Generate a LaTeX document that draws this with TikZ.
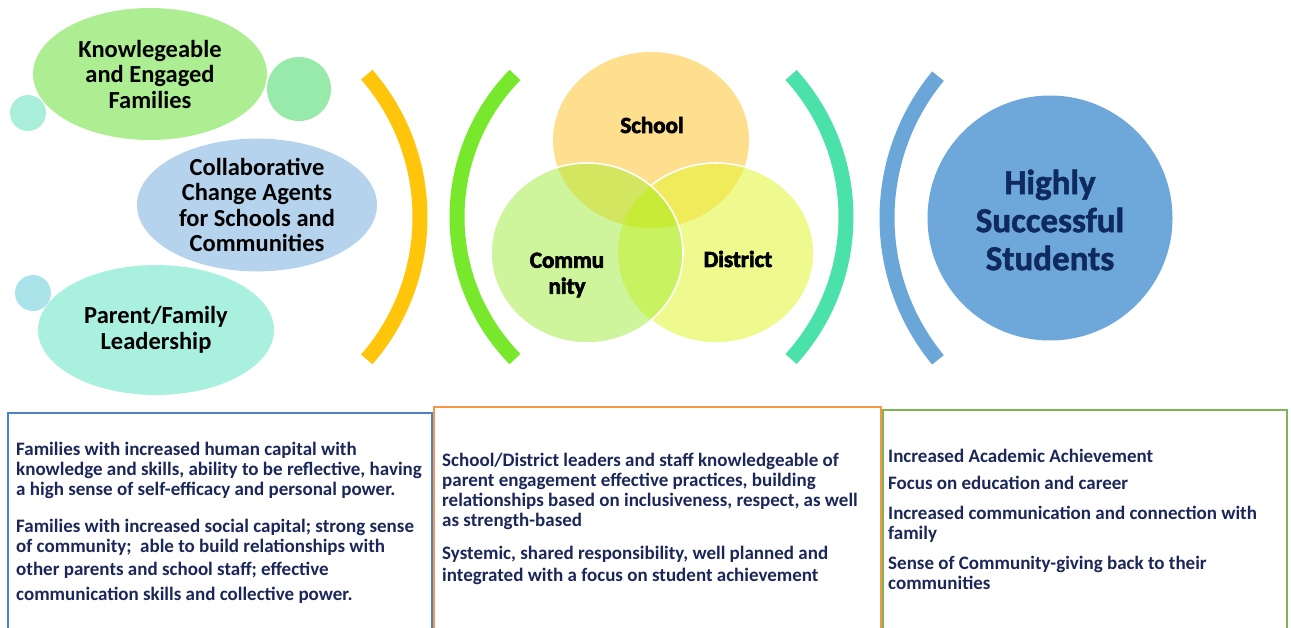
\documentclass[tikz,border=0pt]{standalone}
\usepackage{fontspec}
\setmainfont{Carlito}
\newfontfamily\heavyfont{Carlito}[UprightFont={* Bold}, UprightFeatures={FakeBold=3}]
\newfontfamily\goalfont{Carlito}[UprightFont={* Bold}, UprightFeatures={FakeBold=1.5}]
\usetikzlibrary{shapes.geometric}

\definecolor{dotA}{HTML}{A9EED8}
\definecolor{dotB}{HTML}{98EAAA}
\definecolor{dotC}{HTML}{ABE3EB}
\definecolor{bubA}{HTML}{ADEE92}
\definecolor{bubB}{HTML}{B5D3EC}
\definecolor{bubC}{HTML}{A9F0DF}
\definecolor{bandY}{HTML}{FFC50A}
\definecolor{bandG}{HTML}{77E82B}
\definecolor{bandT}{HTML}{4AE1AA}
\definecolor{bandB}{HTML}{6BA6D9}
\definecolor{goalfill}{HTML}{6EA8DA}
\definecolor{goalink}{HTML}{0E2A5E}
\definecolor{vS}{HTML}{FDDF8E}
\definecolor{vC}{HTML}{CEF59B}
\definecolor{vD}{HTML}{EEFA8E}
\definecolor{vSC}{HTML}{D2E65F}
\definecolor{vSD}{HTML}{F0EB5A}
\definecolor{vCD}{HTML}{C8F25F}
\definecolor{vSCD}{HTML}{C8EB37}
\definecolor{frameB}{HTML}{4F81C7}
\definecolor{frameO}{HTML}{F79646}
\definecolor{frameG}{HTML}{7DB653}
\definecolor{navy}{HTML}{1B2758}

\tikzset{
  ball/.style={circle, inner sep=0pt, draw=none},
  bubble/.style={ellipse, inner sep=0pt, draw=none, align=center, text=black,
    font=\bfseries\fontsize{24.5}{25.5}\selectfont},
  band/.style={line width=15pt},
  venntxt/.style={align=center, text=black, inner sep=0pt,
    font=\heavyfont\fontsize{23}{26}\selectfont},
  goaltxt/.style={align=center, inner sep=0pt, text=goalink,
    font=\goalfont\fontsize{35}{38}\selectfont},
  boxtext/.style={anchor=north west, inner sep=0pt, align=left, text=navy,
    font=\bfseries\fontsize{19}{20}\selectfont},
  frame/.style={line width=2pt, fill=white},
}

\begin{document}
\begin{tikzpicture}[x=1pt, y=-1pt]
\useasboundingbox (0,0) rectangle (1291,627);
\clip (0,0) rectangle (1291,627);

% ---- family bubbles ----
\node[ball, fill=dotA, minimum size=36pt] (dA) at (28,113) {};
\node[ball, fill=dotB, minimum size=64pt] (dB) at (299,89) {};
\node[ball, fill=dotC, minimum size=36pt] (dC) at (33,293) {};
\node[bubble, fill=bubA, minimum width=234pt, minimum height=132pt] (eA) at (150,74)
  {Knowlegeable\\and Engaged\\Families};
\node[bubble, fill=bubB, minimum width=240pt, minimum height=131pt] (eB) at (257,205)
  {Collaborative\\Change Agents\\for Schools and\\Communities};
\node[bubble, fill=bubC, minimum width=236pt, minimum height=130pt] (eC) at (156,330)
  {Parent/Family\\Leadership};

% ---- bracket bands ----
\coordinate (cY) at (203,217);
\coordinate (cG) at (660,217);
\coordinate (cT) at (635,217);
\coordinate (cB) at (1110,218);
\draw[band, bandY] (cY) ++(-41:217) arc[start angle=-41, end angle=41, radius=217];
\draw[band, bandG] (cG) ++(224.4:203) arc[start angle=224.4, end angle=135.6, radius=203];
\draw[band, bandT] (cT) ++(-42.3:211) arc[start angle=-42.3, end angle=42.3, radius=211];
\draw[band, bandB] (cB) ++(219.5:223) arc[start angle=219.5, end angle=140.5, radius=223];

% ---- Venn diagram ----
\coordinate (vs) at (651,140);
\coordinate (vc) at (587,253);
\coordinate (vd) at (716,253);
\def\schoolpath{(vs) ellipse[x radius=98, y radius=88]}
\def\commpath{(vc) ellipse[x radius=96, y radius=90]}
\def\distpath{(vd) ellipse[x radius=98, y radius=90]}
\fill[vS] \schoolpath;
\fill[vD] \distpath;
\begin{scope}
  \clip \distpath;
  \fill[vSD] \schoolpath;
\end{scope}
\draw[white, line width=1.6pt] \distpath;
\fill[vC] \commpath;
\begin{scope}
  \clip \commpath;
  \fill[vSC] \schoolpath;
  \fill[vCD] \distpath;
  \clip \schoolpath;
  \fill[vSCD] \distpath;
\end{scope}
\draw[white, line width=1.6pt] \commpath;

\node[venntxt] (lS) at (652,125) {School};
\node[venntxt] (lC) at (567,275) {Commu\\nity};
\node[venntxt] (lD) at (738,259) {District};

% ---- outcome circle ----
\node[ball, fill=goalfill, minimum size=245pt] (goal) at (1050,218) {};
\node[goaltxt] (goalT) at (1050,220) {Highly\\Successful\\Students};

% ---- description boxes ----
\draw[frame, draw=frameB] (8,413) rectangle (432,650);
\draw[frame, draw=frameO] (434,407) rectangle (881,650);
\draw[frame, draw=frameG] (883,410) rectangle (1287,650);

\node[boxtext] (tA) at (16,442)
  {Families with increased human capital with\\
   knowledge and skills, ability to be reflective, having\\
   a high sense of self-efficacy and personal power.\\[17pt]
   Families with increased social capital; strong sense\\
   of community;\ \ able to build relationships with\\[3pt]
   other parents and school staff; effective\\[5pt]
   communication skills and collective power.};

\node[boxtext] (tB) at (442,453)
  {School/District leaders and staff knowledgeable of\\
   parent engagement effective practices, building\\
   relationships based on inclusiveness, respect, as well\\
   as strength-based\\[13pt]
   Systemic, shared responsibility, well planned and\\[2pt]
   integrated with a focus on student achievement};

\node[boxtext] (tC) at (888,449)
  {Increased Academic Achievement\\[7pt]
   Focus on education and career\\[10pt]
   Increased communication and connection with\\
   family\\[10pt]
   Sense of Community-giving back to their\\
   communities};
\end{tikzpicture}
\end{document}
